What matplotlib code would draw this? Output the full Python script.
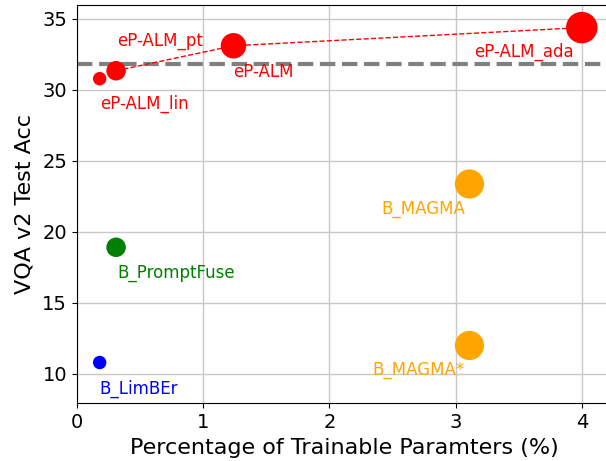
import matplotlib

matplotlib.use("Agg")
import matplotlib.pyplot as plt

# trainable params (%) and VQA v2 test accuracy
names = ["eP-ALM_lin", "eP-ALM_pt", "eP-ALM", "eP-ALM_ada",
         "B_MAGMA", "B_MAGMA*", "B_PromptFuse", "B_LimBEr"]
params = [0.18, 0.31, 1.24, 4.0, 3.11, 3.11, 0.31, 0.18]
acc = [30.78, 31.34, 33.1, 34.38, 23.36, 11.98, 18.9, 10.78]
colors = ["red", "red", "red", "red", "orange", "orange", "green", "blue"]
sizes = [75, 170, 300, 470, 400, 400, 170, 75]

# label anchor positions (data coords)
label_x = [0.18, 0.32, 1.24, 3.15, 2.41, 2.34, 0.32, 0.18]
label_y = [29.0, 33.46, 31.27, 32.69, 21.59, 10.28, 17.07, 8.94]

line_idx = [1, 2, 3]  # dashed red link between eP-ALM variants
baseline = 31.8

fig, ax = plt.subplots(figsize=(6.06, 4.61), dpi=100)
ax.grid(True, color="#c8c8c8", linewidth=1.0)
ax.set_axisbelow(True)

ax.axhline(baseline, color="gray", linestyle="--", linewidth=3, zorder=2)
ax.plot([params[i] for i in line_idx], [acc[i] for i in line_idx],
        color="red", linestyle="--", linewidth=1, zorder=3)
ax.scatter(params, acc, s=sizes, c=colors, zorder=4)

for n, lx, ly, c in zip(names, label_x, label_y, colors):
    ax.text(lx, ly, n, color=c, fontsize=12, va="center", ha="left")

ax.set_xlim(0, 4.24)
ax.set_ylim(7.9, 36)
ax.set_xticks([0, 1, 2, 3, 4])
ax.set_yticks([10, 15, 20, 25, 30, 35])
ax.tick_params(labelsize=14)
ax.set_xlabel("Percentage of Trainable Paramters (%)", fontsize=16, labelpad=4)
ax.set_ylabel("VQA v2 Test Acc", fontsize=16, labelpad=6)

# the reference is cropped at the right, so the axes runs just past the edge
fig.subplots_adjust(left=0.127, right=1.01, top=0.99, bottom=0.125)
fig.savefig("out.png", dpi=100)
